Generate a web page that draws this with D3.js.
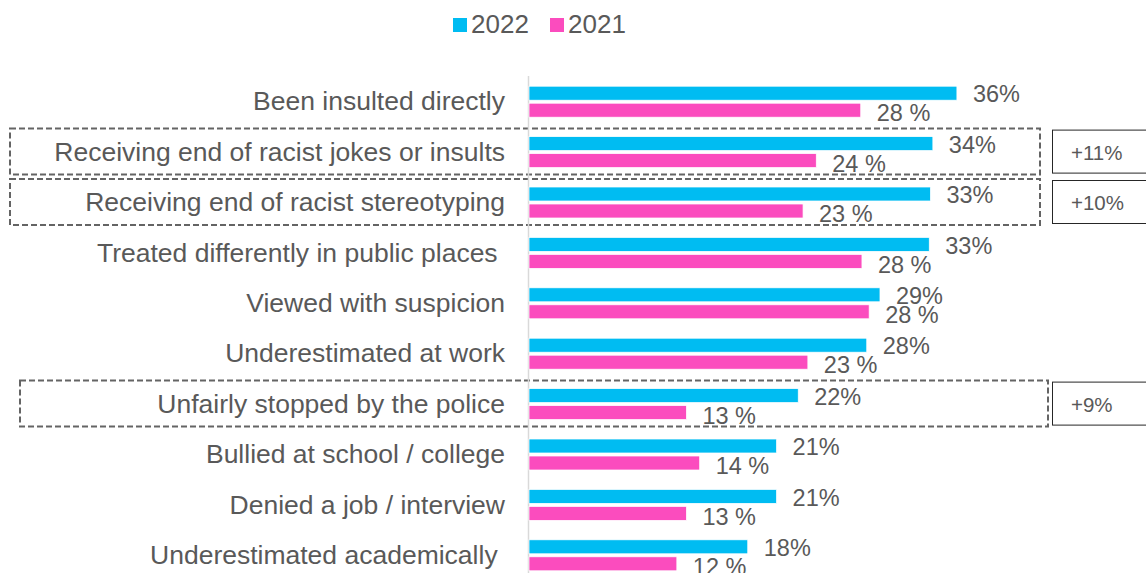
<!DOCTYPE html>
<html>
<head>
<meta charset="utf-8">
<script src="https://cdn.jsdelivr.net/npm/d3@7"></script>
<style>
  body { margin: 0; background: #fff; }
  svg { display: block; font-family: "Liberation Sans", Arial, sans-serif; }
  .cat-label { white-space: pre; }
</style>
</head>
<body>
<div id="chart"></div>
<script>
// data
const categories = [
  'Been insulted directly',
  'Receiving end of racist jokes or insults',
  'Receiving end of racist stereotyping',
  'Treated differently in public places ',
  'Viewed with suspicion',
  'Underestimated at work',
  'Unfairly stopped by the police',
  'Bullied at school / college',
  'Denied a job / interview',
  'Underestimated academically '
];
const values2022 = [35.6, 33.6, 33.4, 33.3, 29.2, 28.1, 22.4, 20.6, 20.6, 18.2];
const values2021 = [27.6, 23.9, 22.8, 27.7, 28.3, 23.2, 13.1, 14.2, 13.1, 12.3];
const seriesNames = ['2022', '2021'];
const highlighted = [
  'Receiving end of racist jokes or insults',
  'Receiving end of racist stereotyping',
  'Unfairly stopped by the police'
];
const changeLabels = ['+11%', '+10%', '+9%'];

// constants
const width = 1146, height = 573;
const colors = { '2022': '#00BCF2', '2021': '#FB4CBE' };
const textColor = '#595959';

const $svg = d3.select('#chart').append('svg')
  .attr('width', width)
  .attr('height', height);

const xScale = d3.scaleLinear()
  .domain([0, 40])
  .range([529, 529 + 40 * 12.02]);

const yScale = d3.scaleBand()
  .domain(categories)
  .range([76, 580]);

const rows = categories.map((c, i) => ({ cat: c, v22: values2022[i], v21: values2021[i] }));
const mid = c => yScale(c) + yScale.bandwidth() / 2;

// highlight boxes (dashed) + change boxes
const boxX = [[10, 1040], [10, 1040], [20, 1048]];
const $hl = $svg.append('g');
highlighted.forEach((c, i) => {
  const cy = mid(c);
  $hl.append('rect')
    .attr('x', boxX[i][0])
    .attr('y', cy - 23)
    .attr('width', boxX[i][1] - boxX[i][0])
    .attr('height', 46)
    .attr('fill', 'none')
    .attr('stroke', '#646464')
    .attr('stroke-width', 2)
    .attr('stroke-dasharray', '6,3');
  $hl.append('rect')
    .attr('x', 1052.5)
    .attr('y', cy - 21.5)
    .attr('width', 100)
    .attr('height', 43)
    .attr('fill', '#fff')
    .attr('stroke', '#262626')
    .attr('stroke-width', 1);
  $hl.append('text')
    .attr('x', 1071)
    .attr('y', cy + 1)
    .attr('dy', '0.35em')
    .attr('fill', textColor)
    .style('font-size', '20.5px')
    .text(changeLabels[i]);
});

// axis line
$svg.append('line')
  .attr('x1', xScale(0) - 0.5)
  .attr('x2', xScale(0) - 0.5)
  .attr('y1', 76)
  .attr('y2', height)
  .attr('stroke', '#D9D9D9')
  .attr('stroke-width', 1.5);

// bars
$svg.selectAll('.bar-2022')
  .data(rows)
  .enter()
  .append('rect')
  .classed('bar-2022', true)
  .attr('x', xScale(0))
  .attr('y', d => mid(d.cat) - 15)
  .attr('width', d => xScale(d.v22) - xScale(0))
  .attr('height', 14)
  .attr('fill', colors['2022'])
  .attr('stroke', '#fff')
  .attr('stroke-width', 0.75);

$svg.selectAll('.bar-2021')
  .data(rows)
  .enter()
  .append('rect')
  .classed('bar-2021', true)
  .attr('x', xScale(0))
  .attr('y', d => mid(d.cat) + 2)
  .attr('width', d => xScale(d.v21) - xScale(0))
  .attr('height', 14)
  .attr('fill', colors['2021'])
  .attr('stroke', '#fff')
  .attr('stroke-width', 0.75);

// value labels
$svg.selectAll('.lbl-2022')
  .data(rows)
  .enter()
  .append('text')
  .classed('lbl-2022', true)
  .attr('x', d => xScale(d.v22) + 16)
  .attr('y', d => mid(d.cat) - 7)
  .attr('dy', '0.35em')
  .attr('fill', textColor)
  .style('font-size', '23.5px')
  .text(d => Math.round(d.v22) + '%');

$svg.selectAll('.lbl-2021')
  .data(rows)
  .enter()
  .append('text')
  .classed('lbl-2021', true)
  .attr('x', d => xScale(d.v21) + 16)
  .attr('y', d => mid(d.cat) + 12)
  .attr('dy', '0.35em')
  .attr('fill', textColor)
  .style('font-size', '23.5px')
  .text(d => Math.round(d.v21) + ' %');

// category labels
$svg.selectAll('.cat-label')
  .data(rows)
  .enter()
  .append('text')
  .classed('cat-label', true)
  .attr('x', 505)
  .attr('y', d => mid(d.cat))
  .attr('dy', '0.35em')
  .attr('text-anchor', 'end')
  .attr('fill', textColor)
  .style('font-size', '26.5px')
  .text(d => d.cat);

// legend
const legendX = [453, 550];
const $legend = $svg.append('g');
seriesNames.forEach((s, i) => {
  $legend.append('rect')
    .attr('x', legendX[i])
    .attr('y', 18)
    .attr('width', 14)
    .attr('height', 14)
    .attr('fill', colors[s]);
  $legend.append('text')
    .attr('x', legendX[i] + 18)
    .attr('y', 24)
    .attr('dy', '0.35em')
    .attr('fill', textColor)
    .style('font-size', '26px')
    .text(s);
});
</script>
</body>
</html>
